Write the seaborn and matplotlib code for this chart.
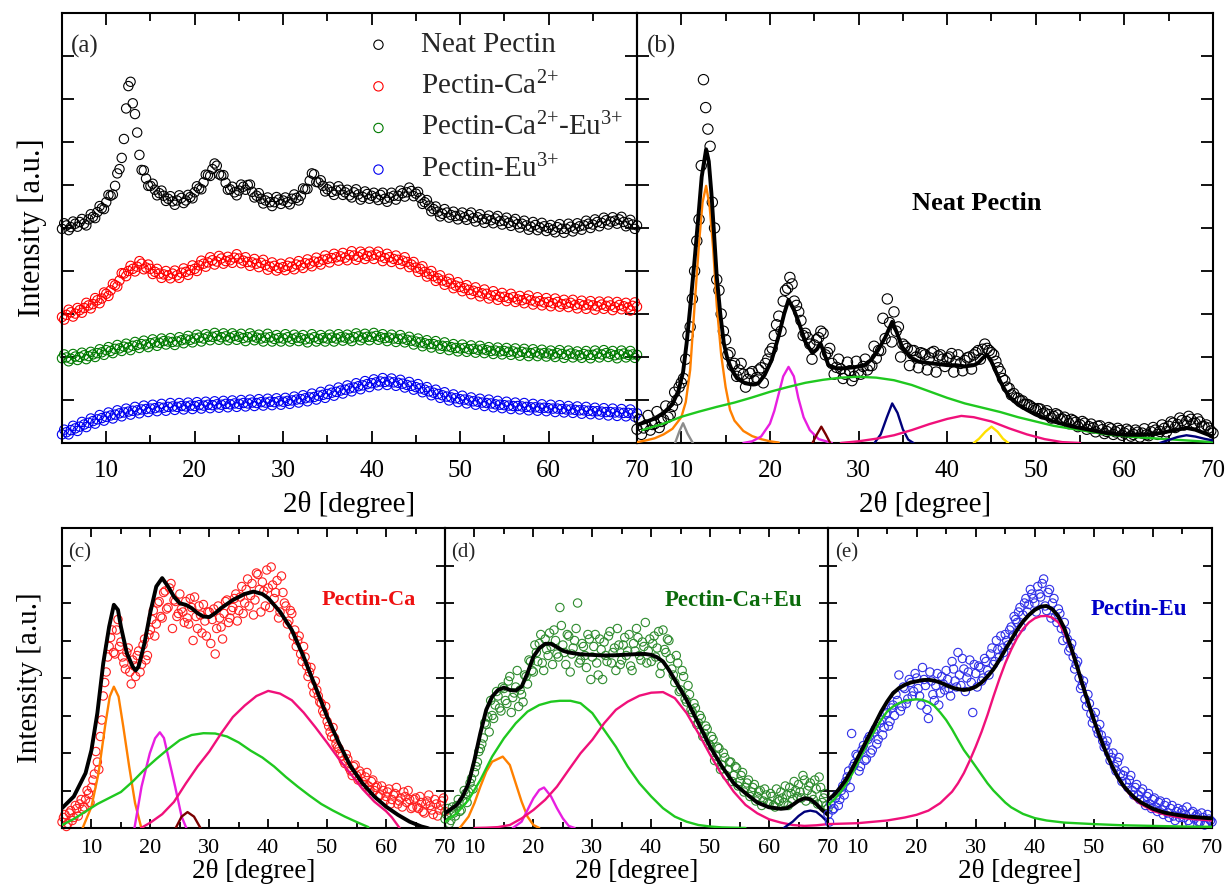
import numpy as np
import pandas as pd
import matplotlib
matplotlib.use("Agg")
import matplotlib.pyplot as plt
import seaborn as sns
from matplotlib.ticker import MultipleLocator, FixedLocator, NullFormatter

# ---------------- data ----------------
two_theta = np.arange(5.0, 70.01, 0.5)        # 131 scan points
two_theta_mid = np.arange(5.25, 69.9, 0.5)    # 130 interleaved scan points

# panel (a): stacked raw patterns (axis units 0-100)
a_neat = [49.8, 50.6, 50.2, 51.0, 51.4, 51.0, 52.0, 52.6, 53.7, 54.6,
          56.0, 57.5, 59.8, 63.7, 70.7, 83.0, 79.0, 72.2, 63.5, 61.5,
          59.8, 58.9, 58.1, 57.5, 56.8, 56.2, 56.4, 57.0, 56.4, 57.2,
          58.3, 59.2, 60.6, 62.3, 63.7, 64.5, 62.2, 60.5, 59.0, 58.3,
          58.7, 59.6, 60.0, 58.4, 57.5, 56.8, 56.4, 56.0, 56.0, 56.6,
          56.4, 56.0, 56.8, 57.0, 57.5, 59.0, 61.0, 62.5, 60.6, 59.8,
          59.0, 58.4, 58.7, 58.9, 58.3, 57.6, 58.3, 57.8, 57.2, 57.9,
          57.5, 57.1, 57.7, 56.8, 57.1, 57.5, 57.5, 58.1, 58.3, 58.6,
          58.0, 57.0, 56.0, 55.2, 54.4, 53.8, 53.3, 53.6, 53.0, 52.8,
          52.9, 52.5, 53.0, 52.3, 52.5, 52.0, 52.1, 51.8, 52.2, 51.6,
          51.7, 51.2, 51.5, 50.9, 51.0, 50.6, 50.3, 50.7, 50.1, 50.4,
          50.0, 49.6, 50.2, 49.8, 49.8, 50.3, 49.9, 50.4, 50.6, 51.0,
          50.8, 51.4, 51.2, 51.8, 51.5, 51.7, 52.0, 51.4, 51.2, 50.8,
          50.6]
a_neat_mid = [51.1, 49.5, 51.5, 50.3, 52.1, 50.6, 53.2, 52.3, 55.1, 54.4,
              57.7, 57.8, 62.7, 66.3, 77.8, 84.0, 76.5, 67.0, 63.4, 59.8,
              60.3, 57.6, 58.7, 56.3, 57.4, 55.4, 57.6, 55.8, 57.7, 56.9,
              59.7, 59.0, 62.4, 62.1, 65.0, 62.5, 62.3, 58.9, 59.6, 57.6,
              60.1, 58.9, 60.1, 57.1, 58.1, 55.7, 57.1, 55.1, 57.2, 55.6,
              57.1, 55.5, 57.8, 56.4, 59.2, 59.1, 62.7, 60.7, 61.1, 58.5,
              59.6, 57.7, 59.7, 57.7, 58.9, 57.1, 59.0, 56.6, 58.5, 56.8,
              58.2, 56.5, 58.2, 56.1, 58.2, 56.6, 58.7, 57.3, 59.4, 57.4,
              58.4, 55.6, 56.5, 53.9, 55.0, 52.7, 54.4, 52.4, 53.8, 52.0,
              53.6, 51.9, 53.6, 51.5, 53.2, 51.2, 52.9, 51.1, 52.8, 50.8,
              52.4, 50.5, 52.1, 50.1, 51.7, 49.6, 51.4, 49.5, 51.2, 49.3,
              50.7, 49.0, 50.9, 48.9, 51.0, 49.2, 51.1, 49.6, 51.7, 50.0,
              52.0, 50.4, 52.4, 50.8, 52.5, 51.0, 52.6, 50.4, 51.9, 49.8]
a_ca = [29.3, 29.8, 30.4, 30.1, 30.9, 31.4, 32.0, 32.3, 33.2, 33.6,
        34.7, 35.5, 36.7, 37.8, 39.4, 40.0, 40.5, 41.0, 41.7, 40.8,
        40.5, 39.8, 39.4, 39.2, 39.0, 39.4, 39.0, 39.6, 39.8, 40.2,
        40.5, 41.3, 41.7, 42.0, 42.5, 42.2, 42.9, 42.3, 42.5, 43.1,
        42.9, 42.4, 42.1, 42.0, 41.7, 41.9, 41.4, 41.0, 41.2, 40.7,
        40.9, 41.2, 41.0, 41.5, 41.3, 41.8, 41.7, 42.2, 42.1, 42.6,
        42.8, 43.0, 43.2, 43.4, 43.1, 43.7, 43.6, 43.3, 43.9, 43.5,
        43.6, 43.8, 43.4, 43.0, 43.2, 42.8, 42.6, 42.4, 42.1, 41.5,
        40.8, 40.5, 39.8, 39.3, 38.8, 38.3, 37.8, 37.5, 37.1, 36.6,
        36.3, 36.0, 35.6, 35.4, 35.1, 34.8, 34.7, 34.3, 34.4, 34.0,
        34.0, 33.7, 33.9, 33.4, 33.2, 33.5, 33.2, 32.9, 33.0, 32.7,
        32.8, 32.5, 32.8, 32.3, 32.4, 32.6, 32.1, 32.3, 32.0, 32.2,
        32.0, 31.8, 32.2, 31.9, 32.0, 31.6, 32.1, 31.8, 31.5, 31.9,
        31.7]
a_ca_mid = [28.7, 31.0, 29.4, 31.4, 30.3, 32.6, 31.3, 33.7, 32.5, 35.0,
            34.2, 37.0, 36.4, 39.5, 38.8, 41.2, 39.9, 42.3, 40.4, 41.5,
            39.3, 40.5, 38.4, 40.0, 38.3, 40.1, 38.4, 40.6, 39.1, 41.3,
            40.0, 42.4, 41.0, 43.2, 41.5, 43.5, 41.7, 43.3, 41.9, 43.9,
            41.8, 43.2, 41.2, 42.8, 40.9, 42.6, 40.3, 42.0, 40.1, 41.7,
            40.2, 42.0, 40.4, 42.3, 40.7, 42.7, 41.1, 43.1, 41.5, 43.6,
            42.0, 44.0, 42.4, 44.2, 42.5, 44.6, 42.6, 44.5, 42.8, 44.5,
            42.8, 44.5, 42.3, 44.0, 42.1, 43.6, 41.6, 43.2, 40.9, 42.1,
            39.8, 41.1, 38.7, 40.0, 37.7, 39.0, 36.8, 38.2, 36.0, 37.4,
            35.3, 36.7, 34.6, 36.2, 34.1, 35.7, 33.6, 35.3, 33.3, 34.9,
            33.0, 34.7, 32.8, 34.2, 32.5, 34.3, 32.2, 33.9, 32.0, 33.7,
            31.8, 33.6, 31.7, 33.3, 31.6, 33.3, 31.3, 33.1, 31.2, 33.0,
            31.0, 32.9, 31.2, 32.9, 30.9, 32.8, 31.1, 32.6, 30.8, 32.7]
a_caeu = [19.7, 19.9, 19.6, 20.1, 20.0, 20.4, 20.2, 20.6, 20.9, 21.1,
          21.6, 21.4, 21.9, 22.0, 22.4, 22.2, 22.6, 22.8, 23.0, 22.9,
          23.2, 23.4, 23.3, 23.7, 23.6, 23.5, 23.6, 23.9, 24.1, 24.0,
          24.3, 24.5, 24.3, 24.7, 24.7, 24.9, 24.6, 24.8, 24.5, 24.9,
          24.7, 24.4, 24.6, 24.8, 24.5, 24.3, 24.5, 24.6, 24.2, 24.4,
          24.3, 24.6, 24.2, 24.5, 24.4, 24.1, 24.3, 24.6, 24.2, 24.4,
          24.3, 24.5, 24.3, 24.6, 24.5, 24.3, 24.6, 24.8, 24.5, 24.7,
          24.7, 24.9, 24.6, 24.4, 24.5, 24.3, 24.2, 24.3, 24.0, 23.8,
          23.6, 23.4, 23.2, 23.0, 23.0, 22.7, 22.6, 22.5, 22.3, 22.1,
          22.0, 22.1, 21.8, 21.9, 21.7, 21.8, 21.6, 21.4, 21.5, 21.3,
          21.4, 21.2, 21.3, 21.0, 21.2, 21.0, 20.9, 21.1, 20.8, 20.9,
          20.8, 20.6, 20.9, 20.7, 20.5, 20.8, 20.6, 20.4, 20.7, 20.5,
          20.5, 20.8, 20.6, 20.9, 20.7, 20.4, 20.6, 20.8, 20.5, 20.6,
          20.5]
a_caeu_mid = [20.6, 19.0, 20.7, 19.3, 21.0, 19.5, 21.2, 20.0, 21.8, 20.5,
              22.3, 20.9, 22.8, 21.4, 23.1, 21.6, 23.5, 22.1, 23.8, 22.3,
              24.1, 22.6, 24.3, 22.9, 24.4, 22.8, 24.6, 23.2, 24.9, 23.4,
              25.2, 23.6, 25.3, 23.9, 25.6, 24.0, 25.5, 23.9, 25.5, 24.0,
              25.4, 23.7, 25.5, 23.9, 25.2, 23.6, 25.4, 23.6, 25.1, 23.6,
              25.3, 23.6, 25.2, 23.7, 25.1, 23.4, 25.3, 23.6, 25.1, 23.6,
              25.2, 23.6, 25.3, 23.8, 25.2, 23.7, 25.5, 23.9, 25.4, 23.9,
              25.6, 24.0, 25.3, 23.7, 25.2, 23.5, 25.1, 23.4, 24.7, 22.9,
              24.3, 22.5, 23.9, 22.2, 23.7, 21.9, 23.4, 21.6, 23.0, 21.3,
              22.9, 21.2, 22.7, 21.0, 22.6, 20.9, 22.3, 20.7, 22.2, 20.6,
              22.1, 20.5, 22.0, 20.3, 21.9, 20.2, 21.8, 20.2, 21.7, 20.1,
              21.5, 20.0, 21.6, 19.8, 21.5, 19.9, 21.3, 19.8, 21.4, 19.7,
              21.5, 19.9, 21.6, 20.0, 21.4, 19.7, 21.5, 19.9, 21.4, 19.8]
a_eu = [2.0, 2.5, 3.0, 3.4, 3.8, 4.3, 4.7, 5.1, 5.5, 5.8,
        6.1, 6.4, 6.6, 6.9, 7.1, 7.3, 7.5, 7.6, 7.8, 7.9,
        8.0, 8.1, 8.3, 8.2, 8.4, 8.5, 8.4, 8.6, 8.5, 8.7,
        8.6, 8.8, 8.7, 8.9, 8.8, 9.0, 8.9, 9.1, 9.0, 9.2,
        9.1, 9.3, 9.2, 9.4, 9.3, 9.5, 9.4, 9.6, 9.5, 9.7,
        9.6, 9.8, 9.9, 10.1, 10.2, 10.4, 10.6, 10.7, 11.0, 11.2,
        11.4, 11.7, 11.9, 12.2, 12.4, 12.7, 12.9, 13.2, 13.4, 13.7,
        13.9, 14.1, 14.3, 14.2, 14.3, 14.1, 14.0, 13.8, 13.5, 13.3,
        13.0, 12.7, 12.4, 12.0, 11.7, 11.4, 11.1, 10.8, 10.6, 10.4,
        10.2, 10.1, 9.9, 9.7, 9.6, 9.4, 9.3, 9.2, 9.0, 8.9,
        8.8, 8.7, 8.6, 8.6, 8.5, 8.4, 8.3, 8.3, 8.2, 8.2,
        8.1, 8.0, 8.0, 7.9, 7.8, 7.8, 7.7, 7.6, 7.6, 7.5,
        7.4, 7.4, 7.3, 7.2, 7.2, 7.1, 7.1, 7.0, 7.0, 6.9,
        6.9]
a_eu_mid = [3.1, 2.0, 4.0, 2.8, 4.9, 3.7, 5.7, 4.5, 6.5, 5.2,
            7.1, 5.7, 7.6, 6.2, 8.0, 6.6, 8.4, 6.9, 8.7, 7.2,
            8.9, 7.4, 9.1, 7.5, 9.3, 7.7, 9.3, 7.8, 9.4, 7.9,
            9.5, 8.0, 9.6, 8.1, 9.7, 8.2, 9.8, 8.3, 9.9, 8.4,
            10.0, 8.5, 10.1, 8.6, 10.2, 8.7, 10.3, 8.8, 10.4, 8.9,
            10.5, 9.1, 10.8, 9.4, 11.1, 9.7, 11.5, 10.1, 11.9, 10.5,
            12.4, 11.0, 12.9, 11.5, 13.4, 12.0, 13.9, 12.5, 14.4, 13.0,
            14.8, 13.4, 15.1, 13.5, 15.0, 13.3, 14.7, 12.9, 14.2, 12.4,
            13.7, 11.8, 13.0, 11.1, 12.4, 10.5, 11.8, 9.9, 11.3, 9.5,
            11.0, 9.2, 10.6, 8.9, 10.3, 8.6, 10.1, 8.3, 9.8, 8.1,
            9.6, 7.9, 9.4, 7.8, 9.3, 7.6, 9.1, 7.5, 9.0, 7.4,
            8.9, 7.2, 8.8, 7.1, 8.6, 7.0, 8.5, 6.8, 8.4, 6.7,
            8.2, 6.6, 8.1, 6.4, 8.0, 6.3, 7.9, 6.2, 7.8, 6.1]

# panel (b): neat pectin, data + fit + components
b_data = [3.2, 2.0, 4.1, 3.0, 4.5, 3.6, 5.4, 6.0, 8.5, 10.0,
          14.0, 19.5, 27.0, 40.0, 52.0, 84.5, 73.0, 56.0, 38.0, 30.0,
          24.0, 21.0, 18.5, 17.0, 16.0, 14.8, 16.6, 15.2, 17.5, 18.5,
          21.2, 25.0, 29.5, 33.0, 36.0, 37.0, 32.0, 28.5, 25.5, 23.0,
          22.8, 24.5, 25.5, 21.0, 18.5, 17.6, 17.2, 16.0, 16.8, 15.5,
          16.6, 17.8, 17.0, 18.0, 19.7, 21.5, 24.3, 28.0, 30.5, 27.0,
          23.0, 22.0, 21.5, 20.0, 21.0, 20.5, 19.8, 21.3, 20.2, 19.5,
          19.7, 20.8, 19.0, 18.5, 19.2, 20.0, 20.5, 21.5, 21.8, 22.0,
          21.0, 19.0, 16.6, 14.5, 12.7, 11.5, 10.4, 9.8, 9.0, 8.4,
          7.7, 7.9, 7.0, 6.6, 6.2, 6.5, 5.6, 5.2, 5.5, 4.8,
          4.2, 4.6, 3.8, 3.5, 3.9, 3.1, 2.7, 3.3, 2.6, 2.9,
          2.3, 2.8, 2.0, 2.5, 2.3, 1.9, 2.6, 3.0, 2.7, 3.4,
          3.9, 4.6, 4.3, 5.2, 5.0, 5.5, 4.6, 4.9, 3.8, 3.5,
          2.3]
b_data_mid = [5.5, 3.5, 6.4, 4.3, 7.3, 5.0, 8.6, 6.6, 11.8, 13.0,
              15.0, 25.0, 33.5, 47.0, 64.5, 78.0, 69.0, 50.0, 35.5, 26.0,
              20.5, 18.0, 15.5, 18.5, 13.0, 16.2, 14.5, 17.0, 14.0, 19.5,
              22.0, 27.5, 26.0, 35.5, 38.5, 33.0, 30.5, 25.0, 24.5, 19.5,
              24.0, 26.0, 20.5, 22.0, 16.0, 19.5, 15.0, 18.8, 14.5, 19.0,
              16.0, 19.5, 18.0, 22.5, 21.5, 29.0, 33.5, 23.5, 26.0, 20.0,
              22.5, 18.0, 21.5, 17.5, 20.8, 17.0, 21.0, 16.5, 20.5, 17.8,
              20.0, 16.5, 20.5, 16.8, 19.8, 17.2, 21.0, 19.5, 23.0, 21.5,
              20.5, 17.5, 15.0, 13.0, 11.2, 10.5, 9.8, 9.0, 8.8, 8.0,
              8.0, 6.8, 7.5, 5.8, 6.8, 5.5, 6.0, 4.5, 5.2, 3.8,
              5.0, 3.2, 4.4, 2.6, 4.0, 2.2, 3.6, 2.0, 3.4, 1.8,
              3.2, 1.6, 3.0, 1.4, 3.3, 1.7, 3.6, 2.0, 4.2, 2.6,
              4.9, 3.6, 5.8, 4.2, 6.2, 4.5, 5.6, 3.8, 4.2, 2.8]
b_fit_x = [5, 6, 7, 8, 9, 9.7, 10.2, 10.6, 11.0, 11.5,
           12.0, 12.3, 12.8, 13.1, 13.4, 13.7, 14.0, 14.4, 14.8, 15.2,
           15.7, 16.3, 17.2, 18.0, 18.7, 19.4, 20.2, 21.0, 21.6, 22.1,
           22.7, 23.3, 24.0, 24.8, 25.3, 25.7, 26.1, 26.6, 27.5, 28.5,
           29.5, 30.7, 31.5, 32.2, 33.0, 33.8, 34.3, 34.9, 35.8, 36.8,
           38.3, 40, 41, 42, 43, 43.5, 44, 44.5, 45, 45.5,
           46, 46.5, 47, 48, 49, 50, 52, 54, 56, 58,
           60, 62, 64, 65, 66, 67, 68, 69, 70]
b_fit_y = [4.2, 4.9, 5.7, 7.0, 9.0, 12.3, 16.5, 23.2, 31.5, 42.6,
           54.5, 61.9, 68.3, 65.5, 58.0, 48.5, 38.7, 30.0, 23.2, 19.6,
           17.0, 15.0, 13.9, 13.6, 13.9, 15.8, 19.3, 25.0, 30.0, 33.3,
           31.0, 27.8, 23.5, 20.9, 21.8, 23.2, 21.0, 18.1, 17.4, 17.4,
           17.6, 18.1, 19.5, 21.6, 24.5, 28.2, 25.8, 22.4, 20.0, 18.9,
           18.5, 18.1, 18.1, 17.8, 18.1, 18.6, 19.7, 20.5, 18.9, 16.6,
           14.3, 12.4, 10.8, 8.9, 7.7, 6.6, 5.0, 3.9, 3.1, 2.3,
           1.9, 1.9, 2.3, 2.7, 3.1, 3.5, 3.1, 2.3, 1.5]
b_gray_x = [9.3, 9.8, 10.2, 10.7, 11.3]
b_gray_y = [0.0, 2.8, 4.6, 2.2, 0.0]
b_orange_x = [5.0, 6.0, 7.0, 8.0, 9.0, 10.0, 10.5, 11.0, 11.5, 12.0, 12.4, 12.8,
              13.2, 13.6, 14.0, 14.5, 15.0, 15.5, 16.0, 17.0, 18.0, 19.0, 20.0, 21.0]
b_orange_y = [0.2, 0.6, 1.1, 2.0, 3.3, 6.0, 9.5, 17.0, 32.0, 46.5, 56.0, 59.8,
              55.0, 45.0, 32.0, 20.5, 13.0, 7.7, 5.2, 2.8, 1.6, 0.9, 0.4, 0.1]
b_magenta_x = [17.0, 18.0, 19.0, 20.0, 20.5, 21.0, 21.5, 22.1, 22.7, 23.2, 23.8, 24.5, 25.5, 27.0]
b_magenta_y = [0.0, 0.4, 1.5, 4.5, 7.5, 11.5, 15.5, 17.7, 15.5, 10.5, 6.0, 3.0, 0.9, 0.0]
b_brown_x = [24.8, 25.3, 25.8, 26.3, 26.8]
b_brown_y = [0.0, 2.0, 3.8, 2.0, 0.0]
b_navy_x = [31.8, 32.5, 33.2, 33.8, 34.4, 35.0, 35.6, 36.2]
b_navy_y = [0.0, 2.0, 6.0, 9.2, 7.0, 3.2, 0.8, 0.0]
b_green_x = [5.6, 8, 10, 12, 14, 16, 18, 20, 22, 24, 26, 28, 30, 32, 34,
             36, 38, 40, 42, 44, 46, 48, 50, 52, 55, 58, 61, 64, 67, 70]
b_green_y = [3.0, 4.5, 6.1, 7.3, 8.4, 9.4, 10.6, 11.9, 13.0, 14.0, 14.7, 15.2, 15.4, 15.2, 14.6,
             13.5, 12.0, 10.5, 9.2, 8.2, 7.2, 6.0, 5.0, 4.0, 3.0, 2.0, 1.4, 1.0, 0.6, 0.2]
b_pink_x = [28, 30, 32, 34, 36, 38, 40, 41.6, 43, 45, 47, 49, 51, 53, 55]
b_pink_y = [0.0, 0.4, 1.0, 1.8, 3.0, 4.4, 5.6, 6.3, 6.0, 5.0, 3.4, 2.0, 0.9, 0.2, 0.0]
b_yellow_x = [43.0, 43.6, 44.3, 45.0, 45.7, 46.3, 46.9]
b_yellow_y = [0.0, 1.0, 2.6, 3.8, 2.6, 1.0, 0.0]
b_navy2_x = [64.0, 65.0, 66.0, 67.0, 68.0, 69.0, 70.0]
b_navy2_y = [0.0, 0.7, 1.4, 1.8, 1.5, 1.0, 0.6]

# panel (c): Pectin-Ca
c_data = [2.0, 4.5, 1.5, 5.8, 3.5, 6.5, 8.0, 6.2, 9.5, 11.5,
          13.5, 18.0, 22.0, 30.5, 44.0, 52.0, 60.5, 66.0, 58.0, 69.5,
          62.0, 55.0, 58.5, 52.0, 56.0, 50.5, 59.0, 54.5, 63.0, 57.5,
          66.0, 72.5, 68.0, 75.5, 70.0, 79.0, 73.5, 81.5, 76.0, 70.5,
          78.0, 72.0, 75.5, 68.0, 73.5, 77.0, 66.5, 71.0, 74.5, 64.0,
          72.0, 69.5, 58.0, 74.0, 67.0, 71.5, 76.0, 70.0, 73.5, 78.0,
          72.5, 80.5, 75.0, 83.0, 77.5, 71.0, 85.0, 79.5, 82.0, 74.0,
          80.0, 87.0, 76.5, 82.5, 72.0, 78.5, 74.0, 69.0, 71.5, 66.0,
          62.5, 58.0, 60.5, 54.0, 52.0, 47.5, 49.0, 44.0, 41.5, 38.0,
          35.5, 32.0, 33.5, 28.0, 26.5, 24.0, 21.5, 23.0, 19.0, 20.5,
          17.5, 19.0, 15.5, 17.0, 14.0, 15.5, 12.5, 14.0, 11.0, 12.5,
          10.5, 13.0, 9.5, 11.5, 8.0, 10.0, 12.0, 8.5, 9.5, 7.0,
          10.0, 6.5, 8.5, 5.0, 9.0, 7.5, 4.5, 8.0, 6.0, 9.0,
          5.5]
c_data_mid = [3.5, 0.5, 5.0, 2.5, 7.5, 4.0, 9.5, 7.0, 12.5, 8.5,
              16.0, 25.5, 19.5, 36.0, 48.5, 57.0, 63.5, 58.5, 66.0, 60.5,
              57.0, 53.0, 60.0, 48.0, 54.0, 57.5, 52.0, 61.0, 56.0, 64.5,
              69.5, 64.0, 75.0, 70.5, 78.5, 73.0, 80.0, 66.5, 75.5, 71.5,
              73.0, 68.5, 70.0, 76.5, 62.5, 70.5, 74.0, 65.0, 69.0, 72.0,
              61.5, 73.0, 66.5, 70.0, 63.0, 75.5, 68.5, 72.5, 76.5, 69.0,
              77.0, 71.5, 79.5, 74.0, 81.5, 76.0, 84.5, 72.0, 79.0, 86.0,
              73.5, 81.0, 78.5, 70.0, 84.0, 75.0, 68.0, 72.5, 64.0, 60.5,
              64.0, 55.5, 57.0, 50.5, 53.5, 45.0, 46.0, 42.0, 39.0, 40.5,
              34.0, 30.5, 30.0, 27.0, 25.0, 22.5, 24.5, 20.0, 17.5, 21.0,
              16.0, 18.0, 14.5, 18.5, 12.5, 16.0, 13.5, 10.5, 14.0, 9.0,
              12.0, 8.0, 11.0, 13.5, 9.0, 7.0, 10.5, 12.5, 6.5, 9.5,
              7.0, 10.5, 5.5, 8.0, 11.0, 6.0, 9.5, 4.0, 7.5, 10.0]
c_fit_x = [5, 7, 9, 10, 11, 12, 13, 13.8, 14.5, 15,
           16, 17, 17.5, 18, 19, 20, 21, 22, 23, 24,
           25, 26, 27, 28, 29, 30, 31, 32, 34, 36,
           37.5, 39, 40, 42, 44, 46, 48, 50, 52, 54,
           56, 58, 60, 62, 64, 66, 67, 68]
c_fit_y = [6.6, 10.5, 18.3, 26.0, 38.3, 54.9, 67.1, 74.4, 72.7, 67.1,
           58.3, 53.8, 52.5, 53.8, 61.6, 72.0, 80.5, 83.3, 80.5, 77.1,
           74.9, 74.4, 73.3, 71.6, 70.5, 70.3, 71.6, 73.3, 76.0, 78.0,
           78.8, 78.0, 76.6, 72.1, 66.0, 57.1, 47.1, 37.1, 28.3, 20.5,
           14.9, 10.5, 7.1, 4.4, 2.1, 0.5, 0.0, -0.8]
c_orange_x = [8.5, 10.0, 11.2, 12.3, 13.1, 13.8, 14.6, 15.4, 16.4, 17.4, 18.4, 18.8]
c_orange_y = [0.0, 7.1, 18.3, 33.8, 43.8, 47.1, 43.8, 33.8, 20.5, 8.3, 0.5, 0.0]
c_magenta_x = [17.3, 18.5, 19.9, 20.8, 21.6, 22.3, 22.9, 23.6, 24.2, 25.3, 26.1]
c_magenta_y = [0.0, 13.8, 24.9, 29.9, 31.9, 30.0, 24.9, 19.0, 13.8, 3.8, 0.0]
c_brown_x = [24.3, 25.3, 26.3, 27.4, 28.5]
c_brown_y = [0.0, 3.8, 5.3, 3.8, 0.0]
c_green_x = [5, 7, 9, 11, 13, 15, 17, 19, 21, 23, 25, 27, 29, 31,
             33, 35, 37, 39, 41, 43, 45, 47, 49, 51, 53, 55, 57]
c_green_y = [1.0, 3.0, 5.5, 8.0, 10.0, 12.0, 15.5, 19.5, 23.0, 26.3, 29.3, 31.0, 31.6, 31.5,
             30.5, 28.5, 25.8, 23.5, 20.5, 17.0, 13.8, 10.8, 8.0, 5.8, 3.8, 2.0, 0.3]
c_pink_x = [18.4, 20, 22, 24, 26, 28, 30, 32, 34, 36, 38, 40,
            42, 44, 46, 48, 50, 52, 54, 56, 58, 60, 61, 62.3]
c_pink_y = [0.0, 1.8, 4.6, 8.7, 14.8, 20.5, 25.5, 31.5, 37.0, 40.8, 44.0, 45.7,
            44.8, 42.6, 38.5, 33.6, 28.4, 23.0, 18.0, 13.0, 8.8, 5.6, 3.5, 0.0]

# panel (d): Pectin-Ca+Eu
d_data = [3.0, 6.5, 2.5, 5.0, 7.5, 5.5, 9.0, 11.5, 12.0, 16.5,
          18.5, 22.0, 26.5, 30.0, 34.5, 32.0, 37.5, 41.0, 44.0, 39.0,
          46.5, 41.5, 50.5, 43.5, 47.0, 40.5, 44.5, 51.0, 48.0, 55.5,
          52.0, 58.5, 61.5, 55.0, 63.0, 57.5, 60.5, 66.0, 58.0, 73.5,
          61.0, 54.5, 64.0, 58.0, 62.5, 75.0, 56.0, 60.5, 53.5, 63.0,
          57.0, 64.5, 51.0, 59.5, 62.0, 55.5, 65.5, 58.5, 52.5, 61.0,
          56.0, 63.5, 59.0, 54.0, 61.5, 66.5, 57.5, 62.0, 68.5, 59.0,
          55.5, 64.0, 60.0, 51.5, 66.0, 58.5, 62.5, 53.0, 48.5, 55.0,
          46.0, 50.5, 42.0, 44.5, 38.5, 40.0, 35.0, 36.5, 31.5, 33.0,
          27.5, 29.5, 24.0, 26.5, 21.0, 23.5, 19.5, 22.0, 17.5, 20.0,
          15.5, 18.5, 13.5, 16.0, 12.0, 14.5, 10.5, 12.5, 9.0, 11.0,
          8.0, 10.5, 7.0, 9.5, 12.0, 8.5, 11.0, 13.5, 9.5, 12.5,
          14.5, 10.0, 16.0, 12.5, 15.0, 9.5, 13.0, 17.0, 8.5, 11.5,
          6.5]
d_data_mid = [4.5, 1.5, 7.0, 4.0, 9.5, 6.0, 12.5, 8.5, 15.0, 13.0,
              20.5, 25.5, 28.0, 35.0, 37.0, 42.5, 36.5, 45.5, 40.0, 47.0,
              42.5, 49.0, 38.5, 45.0, 52.5, 46.0, 42.0, 50.5, 56.0, 52.5,
              61.0, 55.5, 64.5, 52.5, 59.5, 65.0, 54.5, 62.5, 57.0, 67.5,
              58.5, 64.5, 52.0, 60.0, 66.5, 55.0, 61.5, 57.5, 64.5, 49.5,
              60.5, 55.0, 63.0, 49.5, 57.5, 64.0, 55.0, 60.0, 66.5, 54.5,
              61.0, 57.5, 64.5, 52.5, 59.0, 63.5, 56.0, 60.5, 55.0, 63.0,
              61.5, 57.0, 65.5, 54.0, 59.5, 63.0, 56.5, 51.0, 57.5, 45.5,
              52.5, 43.0, 47.5, 39.5, 41.5, 34.5, 37.5, 30.5, 34.0, 28.0,
              30.5, 22.5, 27.0, 19.5, 25.0, 17.5, 22.0, 15.5, 20.5, 14.0,
              17.5, 12.0, 15.0, 10.5, 13.5, 9.0, 12.0, 7.5, 13.0, 8.5,
              11.5, 7.5, 13.0, 9.0, 10.0, 14.0, 7.5, 11.5, 15.5, 10.5,
              12.0, 17.5, 9.0, 14.0, 11.0, 16.0, 8.0, 13.5, 10.0, 7.5]
d_fit_x = [5, 7, 8, 9, 10, 11, 12, 13, 14, 15, 16, 17, 18, 19, 20, 21, 22, 23, 24, 25,
           26, 28, 30, 32, 34, 36, 38, 39, 40, 41, 42, 43, 44, 46, 48, 50, 52, 54, 56, 58,
           60, 62, 63, 64, 65, 66, 67, 68, 69, 70]
d_fit_y = [4.9, 7.7, 10.5, 14.9, 22.7, 31.6, 39.4, 43.8, 46.0, 46.8, 46.0, 45.8, 47.1, 51.6,
           57.1, 59.9, 61.4, 61.4, 60.3, 59.1, 58.5, 57.9, 57.7, 57.5, 57.6, 57.8, 58.0, 58.0,
           57.7, 56.9, 55.5, 52.7, 49.4, 42.7, 34.9, 27.1, 20.5, 14.9, 11.6, 8.5,
           6.9, 6.4, 6.6, 7.7, 9.1, 9.9, 9.6, 8.0, 6.0, 4.4]
d_orange_x = [7.5, 9, 10, 11, 12, 13, 14.8, 16, 17, 18, 19, 20, 21]
d_orange_y = [0.0, 3.8, 8.3, 13.8, 18.8, 22.1, 23.8, 21.0, 14.9, 8.8, 3.8, 1.0, 0.0]
d_magenta_x = [16.5, 18, 19, 20, 21, 21.8, 23, 24, 25, 26, 27]
d_magenta_y = [0.0, 2.1, 6.0, 9.9, 12.7, 13.5, 10.5, 6.6, 3.2, 0.7, 0.0]
d_green_x = [5, 7, 9, 11, 13, 15, 17, 19, 21, 23, 24.5, 26.3, 28, 30, 32, 34, 36, 38, 40,
             42, 44, 46, 48, 50, 52, 56]
d_green_y = [2.1, 4.9, 9.4, 16.0, 23.8, 29.9, 34.9, 38.8, 41.0, 42.1, 42.4, 42.4, 41.6, 38.3,
             32.7, 27.1, 20.5, 14.9, 10.5, 6.6, 3.8, 2.1, 1.0, 0.5, 0.2, 0.0]
d_pink_x = [10, 12, 14, 16, 18, 20, 22, 24, 26, 28, 30, 32, 34, 36, 38, 40, 42,
            44, 46, 48, 50, 52, 54, 56, 58, 60, 62, 64, 66, 68, 70]
d_pink_y = [0.0, 0.1, 0.3, 1.0, 3.2, 6.0, 9.4, 13.8, 19.4, 24.9, 29.4, 34.9, 39.4, 42.1, 44.1,
            45.1, 45.3, 43.3, 38.3, 31.6, 24.4, 17.7, 12.1, 7.7, 4.9, 2.9, 1.8, 1.0, 0.7, 0.9, 1.3]
d_navy_x = [62.5, 64, 65, 66, 67, 68, 69, 70]
d_navy_y = [0.0, 2.1, 4.0, 5.4, 5.8, 5.4, 3.8, 1.8]

# panel (e): Pectin-Eu
e_data = [4.5, 8.0, 6.5, 11.0, 9.5, 14.0, 15.5, 19.0, 31.5, 21.5,
          24.0, 20.5, 27.5, 23.0, 30.5, 26.0, 33.0, 29.5, 36.0, 33.5,
          38.5, 35.5, 41.0, 44.5, 51.0, 40.5, 46.5, 43.0, 48.5, 45.5,
          50.0, 44.0, 53.5, 47.5, 36.5, 49.0, 42.5, 51.5, 45.0, 48.0,
          52.5, 46.5, 55.5, 49.0, 58.5, 47.5, 53.0, 50.0, 56.0, 38.5,
          51.5, 54.0, 49.0, 56.5, 52.5, 58.0, 54.5, 62.5, 57.0, 60.0,
          64.5, 61.0, 67.0, 70.5, 68.5, 73.5, 71.0, 76.5, 74.5, 78.0,
          75.0, 80.5, 77.0, 83.0, 72.5, 79.5, 75.0, 70.5, 73.0, 66.5,
          68.5, 63.0, 60.0, 57.0, 54.5, 50.0, 47.5, 43.0, 44.5, 38.0,
          36.5, 33.0, 34.5, 29.0, 27.5, 25.0, 23.5, 20.5, 22.0, 18.0,
          17.5, 15.0, 16.0, 12.5, 13.5, 11.0, 12.0, 9.0, 10.5, 8.0,
          9.5, 7.0, 8.5, 6.0, 7.5, 5.0, 6.5, 4.0, 5.5, 3.5,
          6.0, 4.5, 2.5, 5.0, 3.0, 4.5, 2.0, 3.5, 1.5, 3.0,
          2.0]
e_data_mid = [2.0, 6.0, 10.0, 7.5, 12.5, 11.0, 17.0, 13.5, 20.5, 24.5,
              19.0, 26.0, 22.5, 29.5, 25.0, 32.0, 28.0, 35.0, 31.0, 38.0,
              34.0, 40.0, 37.5, 42.5, 39.0, 47.0, 41.5, 49.5, 44.0, 51.5,
              46.5, 41.0, 49.5, 39.5, 52.0, 44.5, 47.5, 41.0, 50.5, 46.0,
              49.5, 44.0, 53.0, 47.0, 51.0, 56.5, 45.5, 52.0, 48.5, 54.5,
              47.0, 53.5, 50.0, 55.5, 51.0, 60.0, 55.5, 59.5, 64.0, 58.5,
              62.5, 66.0, 64.0, 69.5, 72.0, 67.0, 75.0, 72.0, 79.5, 76.5,
              72.0, 78.0, 81.5, 74.0, 78.5, 70.0, 76.5, 68.5, 71.5, 62.5,
              65.5, 59.0, 61.5, 53.0, 55.5, 46.5, 49.0, 40.5, 41.5, 35.0,
              38.5, 31.5, 31.0, 27.0, 29.0, 22.5, 25.0, 19.0, 23.5, 15.5,
              19.0, 13.5, 17.5, 11.0, 14.5, 9.5, 13.0, 7.5, 11.5, 6.5,
              10.0, 5.5, 9.0, 4.5, 8.5, 3.5, 7.5, 2.5, 6.5, 5.0,
              3.5, 7.0, 1.5, 5.5, 4.0, 2.0, 5.0, 1.0, 4.5, 2.5]
e_fit_x = [5, 6, 7, 8, 9, 10, 11, 12, 13, 14, 15, 16, 17, 18, 19, 20, 21, 22, 23, 24,
           25, 26, 27, 28, 29, 30, 31, 32, 33, 34, 35, 36, 37, 38, 39, 40, 41, 42, 43, 44,
           45, 46, 47, 48, 49, 50, 51, 52, 53, 54, 55, 56, 57, 58, 60, 62, 64, 66, 68, 70]
e_fit_y = [9.4, 11.0, 13.3, 16.0, 19.4, 23.3, 27.1, 31.0, 34.9, 38.8, 42.1, 44.9, 46.6, 47.7,
           48.5, 48.9, 49.3, 49.4, 49.1, 48.5, 47.6, 46.8, 46.3, 46.0, 46.3, 47.1, 48.5, 50.5,
           52.9, 56.0, 59.4, 62.7, 66.0, 68.8, 71.0, 72.7, 73.8, 74.0, 72.9, 70.5, 66.6, 61.0,
           54.9, 48.3, 42.1, 36.0, 30.5, 25.5, 21.0, 17.1, 14.1, 11.8, 9.9, 8.5, 6.4, 5.1,
           4.4, 3.8, 3.5, 3.2]
e_green_x = [5, 6, 7, 8, 9, 10, 11, 12, 13, 14, 15, 16, 17, 18, 19, 20, 21, 22, 23, 24,
             25, 26, 27, 28, 29, 30, 31, 32, 33, 34, 35, 36, 38, 40, 42, 45, 50, 55, 60, 65, 70]
e_green_y = [7.7, 9.4, 11.6, 14.4, 17.7, 21.6, 25.5, 29.4, 32.7, 36.0, 38.8, 40.5, 41.6, 42.4,
             42.7, 42.9, 42.7, 42.0, 40.7, 38.5, 36.0, 32.9, 29.4, 26.0, 23.3, 20.5, 17.7, 14.9,
             12.5, 10.5, 8.5, 6.9, 4.7, 3.3, 2.5, 1.8, 1.3, 0.9, 0.7, 0.5, 0.4]
e_pink_x = [5, 10, 15, 18, 20, 22, 24, 26, 27, 28, 29, 30, 31, 32, 33, 34, 35, 36, 37, 38,
            39, 40, 41, 42, 43, 44, 45, 46, 47, 48, 49, 50, 51, 52, 53, 54, 55, 56, 57, 58,
            60, 62, 64, 66, 68, 70]
e_pink_y = [1.3, 1.6, 2.5, 3.5, 4.4, 5.8, 8.3, 12.1, 14.9, 18.3, 22.5, 27.1, 32.1, 37.7, 43.8,
            49.6, 54.9, 59.4, 63.3, 66.3, 68.5, 69.9, 70.6, 70.7, 70.1, 68.5, 65.1, 60.3, 54.4,
            47.9, 41.8, 35.7, 30.3, 25.3, 20.8, 16.9, 13.8, 11.4, 9.4, 7.9, 5.7, 4.5, 3.7, 3.1,
            2.8, 2.5]

tick_values = [10, 20, 30, 40, 50, 60, 70]
tick_labels = ["10", "20", "30", "40", "50", "60", "70"]
legend_labels = ["Neat Pectin", "Pectin-Ca$^{2{+}}$", "Pectin-Ca$^{2{+}}$-Eu$^{3{+}}$",
                 "Pectin-Eu$^{3{+}}$"]

# ---------------- style ----------------
sns.set_theme(style="ticks")
plt.rcParams["font.family"] = ["Liberation Serif", "DejaVu Serif"]
plt.rcParams["mathtext.fontset"] = "custom"
plt.rcParams["mathtext.rm"] = "Liberation Serif"
plt.rcParams["mathtext.it"] = "Liberation Serif:italic"
plt.rcParams["mathtext.bf"] = "Liberation Serif:bold"

C_ORANGE = "#FF8000"
C_MAGENTA = "#E81EE0"
C_BROWN = "#7A0000"
C_NAVY = "#00007A"
C_PINK = "#F0107A"
C_YELLOW = "#FFE000"
C_GREEN = "#1FC81F"
C_GRAY = "#8C8C8C"

W, H = 1227, 890
fig = plt.figure(figsize=(W / 100, H / 100), dpi=100)


def add_ax(l, t, r, b):
    return fig.add_axes([l / W, 1 - b / H, (r - l) / W, (b - t) / H])


ax_a = add_ax(62, 13, 637, 443)
ax_b = add_ax(637, 13, 1213, 443)
ax_c = add_ax(62, 528, 445, 828)
ax_d = add_ax(445, 528, 828, 828)
ax_e = add_ax(828, 528, 1212, 828)


def style(ax, top):
    ax.set_xlim(5, 70)
    ax.set_ylim(0, 100)
    ax.set_facecolor("none")
    ax.xaxis.set_major_locator(FixedLocator(tick_values))
    ax.set_xticklabels(tick_labels)
    ax.xaxis.set_minor_locator(FixedLocator([15, 25, 35, 45, 55, 65]))
    ax.yaxis.set_major_locator(MultipleLocator(10 if top else 12.5))
    ax.yaxis.set_major_formatter(NullFormatter())
    maj = 8.5 if top else 6.5
    ax.tick_params(which="major", direction="in", top=True, right=True, length=maj,
                   width=1.3, color="black", labelsize=18 if top else 16,
                   pad=12 if top else 8, labelcolor="black")
    ax.tick_params(which="minor", direction="in", top=True, right=True, length=maj * 0.65,
                   width=1.3, color="black")
    for s in ax.spines.values():
        s.set_linewidth(1.5)
        s.set_color("black")
    ax.set_xlabel("2\u03b8 [degree]", fontsize=21 if top else 19.5, labelpad=7 if top else 1,
                  color="black")
    ax.set_ylabel("")


def pts(ax, y_main, y_mid, color, size, label=None):
    x_all = np.concatenate([two_theta, two_theta_mid])
    y_all = np.concatenate([np.asarray(y_main, float), np.asarray(y_mid, float)])
    sns.scatterplot(x=x_all, y=y_all, ax=ax, marker="o", s=size, facecolors="none",
                    edgecolor=color, linewidth=0.8, label=label, legend=False,
                    clip_on=False, zorder=2)


def line(ax, x, y, color, lw):
    sns.lineplot(x=x, y=y, ax=ax, color=color, linewidth=lw, estimator=None,
                 sort=False, legend=False, zorder=3)


# ---------- panel (a)
pts(ax_a, a_neat, a_neat_mid, "black", 45, legend_labels[0])
pts(ax_a, a_ca, a_ca_mid, "#FF0000", 45, legend_labels[1])
pts(ax_a, a_caeu, a_caeu_mid, "#007A00", 45, legend_labels[2])
pts(ax_a, a_eu, a_eu_mid, "#0000F0", 45, legend_labels[3])
style(ax_a, True)
ax_a.set_ylabel("Intensity [a.u.]", fontsize=22, color="black")
ax_a.yaxis.set_label_coords(-0.026, 0.5)
ax_a.legend(loc="upper left", bbox_to_anchor=(0.492, 1.0), frameon=False, fontsize=21,
            handlelength=1.0, handletextpad=0.95, labelspacing=0.45, borderpad=0.15)
ax_a.text(0.016, 0.923, "(a)", transform=ax_a.transAxes, fontsize=18, va="center", ha="left")

# ---------- panel (b)
pts(ax_b, b_data, b_data_mid, "black", 55)
for xs, ys, c in [(b_gray_x, b_gray_y, C_GRAY), (b_orange_x, b_orange_y, C_ORANGE),
                  (b_magenta_x, b_magenta_y, C_MAGENTA), (b_brown_x, b_brown_y, C_BROWN),
                  (b_navy_x, b_navy_y, C_NAVY), (b_green_x, b_green_y, C_GREEN),
                  (b_pink_x, b_pink_y, C_PINK), (b_yellow_x, b_yellow_y, C_YELLOW),
                  (b_navy2_x, b_navy2_y, C_NAVY)]:
    line(ax_b, xs, ys, c, 1.7)
line(ax_b, b_fit_x, b_fit_y, "black", 2.8)
style(ax_b, True)
ax_b.text(0.017, 0.923, "(b)", transform=ax_b.transAxes, fontsize=18, va="center", ha="left")
ax_b.text(0.589, 0.558, "Neat Pectin", transform=ax_b.transAxes, fontsize=19,
          fontweight="bold", va="center", ha="center", color="black")

# ---------- panel (c)
pts(ax_c, c_data, c_data_mid, "#FF2020", 36)
for xs, ys, c in [(c_orange_x, c_orange_y, C_ORANGE), (c_magenta_x, c_magenta_y, C_MAGENTA),
                  (c_brown_x, c_brown_y, C_BROWN), (c_green_x, c_green_y, C_GREEN),
                  (c_pink_x, c_pink_y, C_PINK)]:
    line(ax_c, xs, ys, c, 1.7)
line(ax_c, c_fit_x, c_fit_y, "black", 2.8)
style(ax_c, False)
ax_c.set_ylabel("Intensity [a.u.]", fontsize=21, color="black")
ax_c.yaxis.set_label_coords(-0.05, 0.5)
ax_c.text(0.015, 0.917, "(c)", transform=ax_c.transAxes, fontsize=15, va="center", ha="left")
ax_c.text(0.80, 0.76, "Pectin-Ca", transform=ax_c.transAxes, fontsize=16, fontweight="bold",
          va="center", ha="center", color="#EE1111")

# ---------- panel (d)
pts(ax_d, d_data, d_data_mid, "#2E8B2E", 36)
for xs, ys, c in [(d_orange_x, d_orange_y, C_ORANGE), (d_magenta_x, d_magenta_y, C_MAGENTA),
                  (d_green_x, d_green_y, C_GREEN), (d_pink_x, d_pink_y, C_PINK),
                  (d_navy_x, d_navy_y, C_NAVY)]:
    line(ax_d, xs, ys, c, 1.7)
line(ax_d, d_fit_x, d_fit_y, "black", 2.8)
style(ax_d, False)
ax_d.text(0.017, 0.917, "(d)", transform=ax_d.transAxes, fontsize=15, va="center", ha="left")
ax_d.text(0.752, 0.76, "Pectin-Ca+Eu", transform=ax_d.transAxes, fontsize=16.5,
          fontweight="bold", va="center", ha="center", color="#0B6B0B")

# ---------- panel (e)
pts(ax_e, e_data, e_data_mid, "#3030E8", 36)
for xs, ys, c in [(e_green_x, e_green_y, C_GREEN), (e_pink_x, e_pink_y, C_PINK)]:
    line(ax_e, xs, ys, c, 1.7)
line(ax_e, e_fit_x, e_fit_y, "black", 2.8)
style(ax_e, False)
ax_e.text(0.019, 0.917, "(e)", transform=ax_e.transAxes, fontsize=15, va="center", ha="left")
ax_e.text(0.81, 0.727, "Pectin-Eu", transform=ax_e.transAxes, fontsize=16.5,
          fontweight="bold", va="center", ha="center", color="#0000C8")

fig.savefig("out.png", dpi=100, facecolor="white")
